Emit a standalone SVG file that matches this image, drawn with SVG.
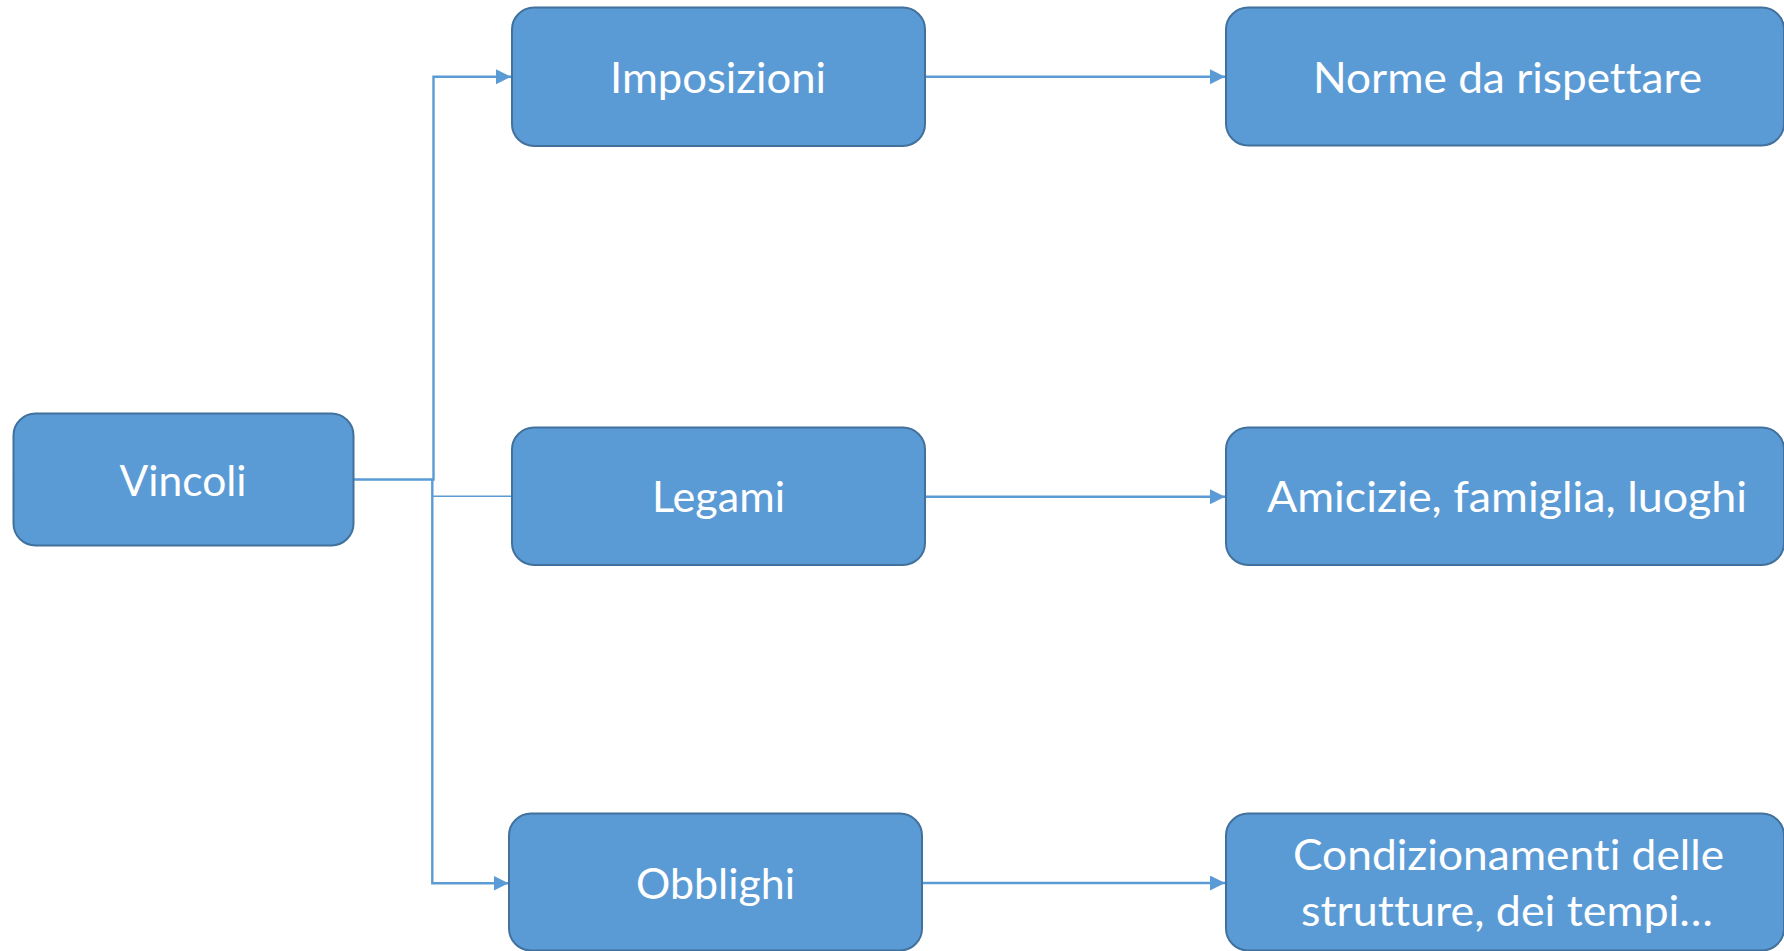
<svg xmlns="http://www.w3.org/2000/svg" width="1784" height="951" viewBox="0 0 1784 951">
<style>
.node rect{fill:#5B9BD5;stroke:#41719C;stroke-width:2}
.node text{font-family:Lato,"Open Sans","Liberation Sans",sans-serif;font-size:42px;fill:#FFFFFF;font-variant-ligatures:none;font-feature-settings:"liga" 0,"clig" 0}
.conn{fill:none;stroke:#5B9BD5;stroke-width:2.4}
.thin{fill:none;stroke:#5B9BD5;stroke-width:1.5}
</style>
<defs>
<marker id="arr" markerUnits="userSpaceOnUse" markerWidth="16" markerHeight="16" refX="15" refY="7.5" orient="auto">
<path d="M0,0 L15,7.5 L0,15 z" fill="#5B9BD5"/>
</marker>
</defs>
<rect width="1784" height="951" fill="#FFFFFF"/>
<g id="connectors">
<path class="conn" d="M354,479.5 H433.5 V76.7 H511" marker-end="url(#arr)"/>
<path class="conn" d="M432.3,478.5 V883.3 H508.5" marker-end="url(#arr)"/>
<path class="thin" d="M432.3,496.3 H512"/>
<path class="conn" d="M925,76.7 H1225" marker-end="url(#arr)"/>
<path class="conn" d="M925,496.7 H1225" marker-end="url(#arr)"/>
<path class="conn" d="M922,883 H1225" marker-end="url(#arr)"/>
</g>
<g id="vincoli" class="node">
<rect x="13.5" y="413.5" width="340" height="132" rx="22"/>
<text x="119.5" y="495.5" textLength="127" lengthAdjust="spacingAndGlyphs">Vincoli</text>
</g>
<g id="imposizioni" class="node">
<rect x="512" y="7.5" width="413" height="138.5" rx="22"/>
<text x="610" y="92.5" textLength="216" lengthAdjust="spacingAndGlyphs">Imposizioni</text>
</g>
<g id="legami" class="node">
<rect x="512" y="427.5" width="413" height="137.5" rx="22"/>
<text x="652" y="512" textLength="133" lengthAdjust="spacingAndGlyphs">Legami</text>
</g>
<g id="obblighi" class="node">
<rect x="509" y="813.5" width="413" height="137" rx="22"/>
<text x="636" y="899" textLength="159" lengthAdjust="spacingAndGlyphs">Obblighi</text>
</g>
<g id="norme" class="node">
<rect x="1226" y="7.5" width="558" height="138" rx="22"/>
<text x="1313" y="92.5" textLength="389" lengthAdjust="spacingAndGlyphs">Norme da rispettare</text>
</g>
<g id="amicizie" class="node">
<rect x="1226" y="427.5" width="558" height="137.5" rx="22"/>
<text x="1267" y="512" textLength="480" lengthAdjust="spacingAndGlyphs">Amicizie, famiglia, luoghi</text>
</g>
<g id="condizionamenti" class="node">
<rect x="1226" y="813.5" width="558" height="137" rx="22"/>
<text x="1293" y="870" textLength="431" lengthAdjust="spacingAndGlyphs">Condizionamenti delle</text>
<text x="1301" y="926" textLength="412" lengthAdjust="spacingAndGlyphs">strutture, dei tempi…</text>
</g>
</svg>
